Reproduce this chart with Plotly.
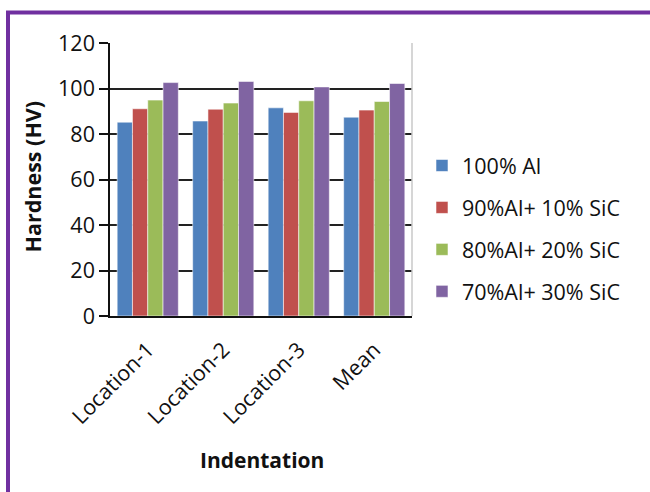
import plotly.graph_objects as go

# Hardness measurements per indentation location
categories = ["Location-1", "Location-2", "Location-3", "Mean"]
series_names = ["100% Al", "90%Al+ 10% SiC", "80%Al+ 20% SiC", "70%Al+ 30% SiC"]
al_100 = [85.2, 85.7, 91.5, 87.4]
al90_sic10 = [91.1, 90.9, 89.5, 90.5]
al80_sic20 = [94.9, 93.6, 94.6, 94.3]
al70_sic30 = [102.6, 103.1, 100.7, 102.2]
y_ticks = [0, 20, 40, 60, 80, 100, 120]

colors = ["#4F81BD", "#C0504D", "#9BBB59", "#8064A2"]
values = [al_100, al90_sic10, al80_sic20, al70_sic30]

FONT = "'Open Sans', sans-serif"
FS = 21.5

fig = go.Figure()
for i, (name, vals) in enumerate(zip(series_names, values)):
    fig.add_trace(go.Bar(
        x=categories, y=vals, name=name,
        legendgroup=f"g{i}",
        marker=dict(color=colors[i], line=dict(color="rgba(255,255,255,0.55)", width=1)),
    ))

# plot-area geometry in pixels
L, R, T, B = 110, 238, 43, 176
W = 650 - L - R
H = 492 - T - B

def px_x(p):
    return (p - L) / W

def px_y(p):
    return (492 - B - p) / H

# purple frame around the figure (left and top edges)
frame = dict(color="#7030A0", width=4)
fig.add_shape(type="line", xref="paper", yref="paper",
              x0=px_x(8), x1=px_x(8), y0=px_y(12), y1=px_y(520), line=frame)
fig.add_shape(type="line", xref="paper", yref="paper",
              x0=px_x(6), x1=px_x(680), y0=px_y(12.5), y1=px_y(12.5), line=frame)

# light right border of the plot area
fig.add_shape(type="line", xref="paper", yref="paper", x0=1, x1=1, y0=0, y1=1,
              line=dict(color="#C8C8C8", width=1.5))

# axis titles
fig.add_annotation(text="<b>Indentation</b>", xref="paper", yref="paper",
                   x=px_x(261.5), y=px_y(460), xanchor="center", yanchor="middle",
                   showarrow=False, font=dict(size=FS - 0.5, family=FONT, color="#111111"))
fig.add_annotation(text="<b>Hardness (HV)</b>", xref="paper", yref="paper",
                   x=px_x(31.5), y=px_y(177), xanchor="center", yanchor="middle",
                   textangle=-90, showarrow=False,
                   font=dict(size=FS, family=FONT, color="#111111"))

fig.update_layout(
    width=650, height=492,
    margin=dict(l=L, r=R, t=T, b=B),
    paper_bgcolor="white", plot_bgcolor="white",
    barmode="group", bargap=0.19, bargroupgap=0,
    font=dict(family=FONT, size=FS, color="#111111"),
    legend=dict(
        x=px_x(422), y=px_y(145), xanchor="left", yanchor="top",
        traceorder="grouped", tracegroupgap=11,
        font=dict(size=FS, family=FONT, color="#111111"),
        itemwidth=30, bgcolor="rgba(0,0,0,0)",
    ),
    xaxis=dict(
        tickangle=-45, showline=True, linecolor="#111111", linewidth=1.5,
        ticks="", showgrid=False, mirror=False, ticklabelstandoff=11,
        tickfont=dict(size=FS, family=FONT),
    ),
    yaxis=dict(
        range=[0, 120], tickvals=y_ticks, ticktext=[str(v) for v in y_ticks],
        showline=True, linecolor="#111111", linewidth=1.5,
        ticks="outside", ticklen=9, tickcolor="#111111", tickwidth=1.5,
        showgrid=True, gridcolor="#222222", gridwidth=1.5, zeroline=False,
        tickfont=dict(size=FS, family=FONT),
    ),
)

fig.write_html("out.html")
